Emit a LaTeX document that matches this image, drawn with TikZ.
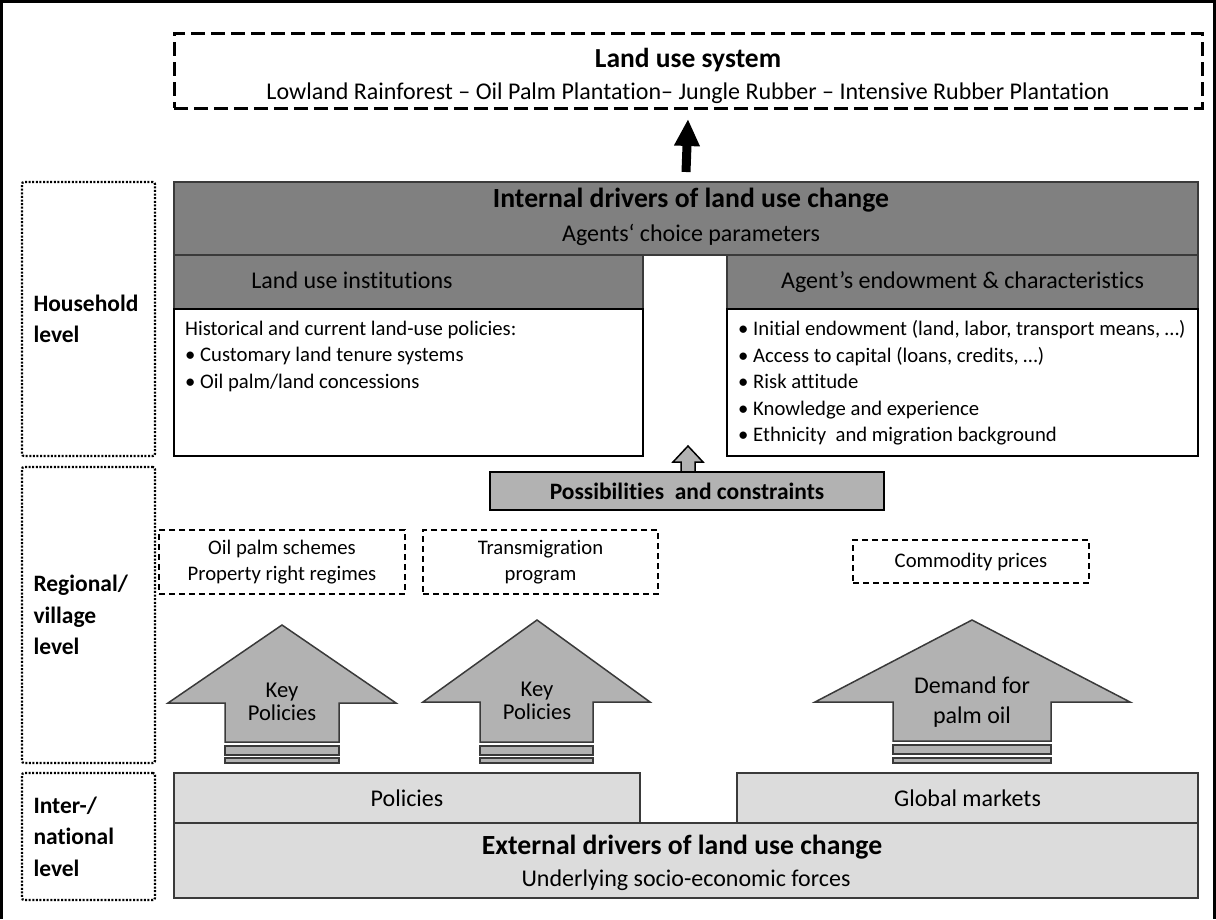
\documentclass[tikz,border=0pt]{standalone}
\usepackage{fontspec}
\setmainfont{Carlito}[Ligatures=NoCommon]
\usetikzlibrary{arrows.meta}
\definecolor{hdgray}{HTML}{808080}
\definecolor{arrgray}{HTML}{B2B2B2}
\definecolor{extgray}{HTML}{DCDCDC}
\definecolor{edgegray}{HTML}{3A3A3A}

\begin{document}
\begin{tikzpicture}[x=1pt,y=-1pt,
  box/.style={anchor=north west,inner sep=0pt,outer sep=0pt,line width=1.5pt},
  hd/.style={box,fill=hdgray,draw=edgegray},
  body/.style={box,fill=white,draw=black},
  ext/.style={box,fill=extgray,draw=edgegray},
  lvl/.style={box,draw=black,line width=2.2pt,dash pattern=on 2pt off 1.6pt,rounded corners=2pt,
    text width=110pt,align=left,font=\fontsize{23.5}{31.5}\selectfont\bfseries},
  opt/.style={box,draw=black,line width=1.8pt,dash pattern=on 6pt off 4pt,
    align=center,font=\fontsize{20.7}{26}\selectfont},
  blk/.style={fill=arrgray,draw=edgegray,line width=1.5pt,line join=miter},
  big/.style={font=\fontsize{27.7}{32}\selectfont\bfseries},
  mid/.style={font=\fontsize{24}{28}\selectfont},
  txt/.style={font=\fontsize{20.7}{26.5}\selectfont,align=left,inner sep=0pt},
]
\useasboundingbox (0,0) rectangle (1216,919);
\draw[line width=3pt] (1.5,919) -- (1.5,1.5) -- (1214.5,1.5) -- (1214.5,919);

% land use system
\node[box,draw=black,line width=3pt,dash pattern=on 14pt off 6pt,minimum width=1028pt,minimum height=75pt] (lus) at (174,33) {};
\node[font=\fontsize{27.5}{32}\selectfont\bfseries] (lusTitle) at (688,60) {Land use system};
\node[mid] (lusSub) at (688,93) {Lowland Rainforest – Oil Palm Plantation– Jungle Rubber – Intensive Rubber Plantation};

% internal drivers
\node[hd,minimum width=1024pt,minimum height=73pt] (internal) at (174,182) {};
\node[big] (internalTitle) at (691,200) {Internal drivers of land use change};
\node[mid] (internalSub) at (691,235) {Agents‘ choice parameters};
\draw[-{Triangle[width=24pt,length=27pt]},line width=9pt] ([yshift=10pt]internal.north) -- ([yshift=-11pt]lus.south);

\node[hd,minimum width=469pt,minimum height=54pt] (instHd) at (174,255) {};
\node[mid] (instTitle) at (352,280) {Land use institutions};
\node[body,minimum width=469pt,minimum height=147pt] (instBody) at (174,309) {};
\node[txt,anchor=west] (instList) at (185,356) {Historical and current land-use policies:\\
  • Customary land tenure systems\\
  • Oil palm/land concessions};

\node[hd,mid,minimum width=471pt,minimum height=54pt] (endowHd) at (727,255) {Agent’s endowment \& characteristics};
\node[body,minimum width=471pt,minimum height=147pt] (endowBody) at (727,309) {};
\node[txt,anchor=west] (endowList) at (738,383) {• Initial endowment (land, labor, transport means, …)\\
  • Access to capital (loans, credits, …)\\
  • Risk attitude\\
  • Knowledge and experience\\
  • Ethnicity~ and migration background};

% levels
\node[lvl,minimum width=133pt,minimum height=274pt] (household) at (22,182) {Household\\level};
\node[lvl,minimum width=133pt,minimum height=296pt] (regional) at (22,467) {Regional/\\village\\level};
\node[lvl,minimum width=133pt,minimum height=127pt] (national) at (22,773) {Inter-/\\national\\level};

% possibilities
\draw[fill=arrgray,draw=black,line width=1.5pt] (681,473) -- (681,462) -- (673,462) -- (688,446) -- (703,462) -- (695,462) -- (695,473);
\node[box,fill=arrgray,draw=black,line width=2pt,minimum width=394pt,minimum height=38pt,
  font=\fontsize{23.5}{27}\selectfont\bfseries] (poss) at (490,472) {Possibilities~ and constraints};

% regional factors
\node[opt,minimum width=246pt,minimum height=64pt] (schemes) at (159,530) {Oil palm schemes\\Property right regimes};
\node[opt,minimum width=235pt,minimum height=64pt] (transmig) at (423,530) {Transmigration\\program};
\node[opt,minimum width=236pt,minimum height=43pt] (prices) at (853,540) {Commodity prices};

% block arrows
\draw[blk] (225,742) -- (225,703) -- (168,703) -- (282,625) -- (396,703) -- (339,703) -- (339,742) -- cycle;
\draw[blk] (225,746) rectangle (339,755);
\draw[blk] (225,758) rectangle (339,763);
\node[align=center,font=\fontsize{22.6}{23}\selectfont] (keyA) at (282,701.5) {Key\\Policies};

\draw[blk] (480,742) -- (480,702) -- (423,702) -- (537,620) -- (650,702) -- (593,702) -- (593,742) -- cycle;
\draw[blk] (480,746) rectangle (593,755);
\draw[blk] (480,758) rectangle (593,763);
\node[align=center,font=\fontsize{22.6}{23}\selectfont] (keyB) at (537,700.5) {Key\\Policies};

\draw[blk] (893,741) -- (893,702) -- (815,702) -- (972,620) -- (1130,702) -- (1051,702) -- (1051,741) -- cycle;
\draw[blk] (893,745) rectangle (1051,754);
\draw[blk] (893,758) rectangle (1051,763);
\node[align=center,font=\fontsize{24}{30}\selectfont] (demand) at (972,702) {Demand for\\palm oil};

% external drivers
\node[ext,mid,minimum width=466pt,minimum height=50pt] (policies) at (174,773) {Policies};
\node[ext,mid,minimum width=461pt,minimum height=50pt] (markets) at (737,773) {Global markets};
\node[ext,minimum width=1024pt,minimum height=75pt] (external) at (174,823) {};
\node[big] (externalTitle) at (682,847) {External drivers of land use change};
\node[mid] (externalSub) at (686,880) {Underlying socio-economic forces};
\end{tikzpicture}
\end{document}
